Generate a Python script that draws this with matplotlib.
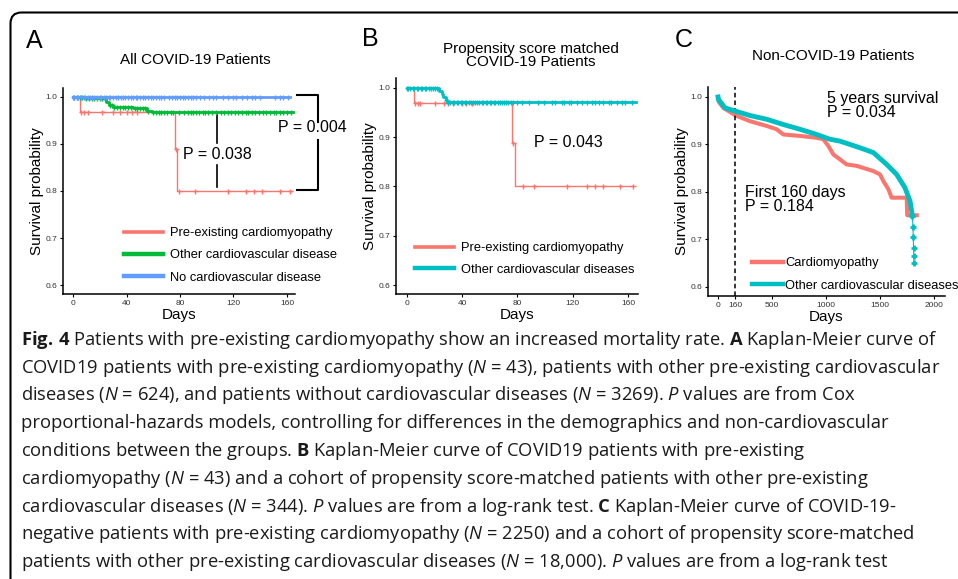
import numpy as np
import matplotlib
matplotlib.use("Agg")
import matplotlib.pyplot as plt
from matplotlib.patches import FancyBboxPatch
from matplotlib.lines import Line2D

plt.rcParams['font.family'] = ['Liberation Sans', 'DejaVu Sans']
plt.rcParams['mathtext.fontset'] = 'custom'
plt.rcParams['mathtext.rm'] = 'Open Sans'
plt.rcParams['mathtext.it'] = 'Open Sans:italic'
plt.rcParams['mathtext.bf'] = 'Open Sans:bold'

RED = '#F8766D'
GREEN = '#00BA38'
BLUE = '#619CFF'
TEAL = '#00BFC4'

# ---------------- data ----------------
# A: all covid-19 patients (step times / survival, censor times)
a_cm_t = [0, 5, 76, 78]
a_cm_s = [1.0, 0.969, 0.889, 0.800]
a_cm_cens = [6, 8, 11, 22, 30, 35, 40, 44, 48, 77, 79, 91, 116, 129, 135, 141, 155, 162]
a_cvd_t = [0, 8, 25, 27, 30, 45, 55, 59]
a_cvd_s = [1.0, 0.997, 0.990, 0.983, 0.979, 0.976, 0.971, 0.967]
a_cvd_cens = [1, 3, 5, 7, 10, 12, 14, 16, 18, 20, 22, 24, 28, 29, 31, 33, 35, 37, 39,
              41, 43, 46, 48, 50, 52, 54, 56, 60, 62, 64, 66, 68, 70, 73, 75, 79, 83,
              86, 88, 90, 92, 94, 97, 99, 101, 104, 107, 111, 113, 116, 118, 121, 123,
              126, 129, 131, 134, 136, 139, 142, 144, 147, 150, 152, 155, 157, 160, 163]
a_none_t = [0]
a_none_s = [1.0]
a_none_cens = [0, 1, 3, 4, 6, 8, 9, 11, 13, 14, 16, 18, 20, 21, 23, 25, 27, 28, 30, 32,
               34, 36, 37, 39, 41, 43, 45, 47, 48, 50, 52, 54, 56, 58, 60, 62, 64, 66,
               68, 72, 74, 76, 78, 80, 82, 84, 86, 88, 90, 92, 95, 98, 102, 105, 107,
               112, 116, 120, 122, 126, 130, 134, 136, 140, 151, 155, 157, 161]

# B: propensity score matched covid-19 patients
b_cm_t = [0, 5, 76, 78]
b_cm_s = [1.0, 0.969, 0.889, 0.800]
b_cm_cens = [6, 8, 9.5, 20, 27, 30, 33.5, 40, 43, 47, 77, 84, 92, 116, 130, 136, 142, 154, 164]
b_oth_t = [0, 23, 25, 26, 28, 29]
b_oth_s = [1.0, 0.994, 0.988, 0.982, 0.976, 0.971]
b_oth_cens = [0, 1, 2, 4, 5, 7, 8, 10, 11, 13, 14, 16, 17, 19, 20, 22,
              28, 30, 31, 33, 34, 36, 37, 39, 40, 42, 43, 45, 46, 48, 49, 51, 52, 54,
              55, 57, 58, 60, 61, 63, 64, 66, 67, 69, 70, 72, 73, 75, 77, 80,
              83, 88, 95, 99, 105, 107, 112, 114, 117, 119, 123, 127, 130, 134, 136,
              139, 142, 146, 148, 152, 156, 158, 163]

# C: non-covid-19 patients
c_cm_days = [0, 6, 49, 164, 296, 451, 543, 605, 759, 914, 975, 1021, 1068, 1191, 1284,
             1438, 1500, 1531, 1577, 1608, 1747, 1752, 1840]
c_cm_surv = [1.0, 0.990, 0.977, 0.961, 0.949, 0.939, 0.932, 0.921, 0.918, 0.914, 0.911,
             0.897, 0.879, 0.858, 0.855, 0.844, 0.837, 0.823, 0.806, 0.788, 0.788, 0.751,
             0.751]
c_oth_days = [0, 3, 65, 164, 296, 451, 605, 759, 914, 1037, 1130, 1315, 1438, 1562,
              1654, 1731, 1778, 1800]
c_oth_surv = [1.0, 0.995, 0.977, 0.970, 0.961, 0.953, 0.942, 0.932, 0.921, 0.911, 0.907,
              0.893, 0.883, 0.858, 0.837, 0.809, 0.781, 0.750]
c_oth_tail_days = [1800, 1805, 1808, 1811, 1813, 1815]
c_oth_tail_surv = [0.750, 0.727, 0.706, 0.682, 0.665, 0.650]

y_ticks = [0.6, 0.7, 0.8, 0.9, 1.0]
ab_x_ticks = [0, 40, 80, 120, 160]
c_x_ticks = [0, 160, 500, 1000, 1500, 2000]

caption = [
    r"$\mathbf{Fig.\,4}$ Patients with pre-existing cardiomyopathy show an increased mortality rate. $\mathbf{A}$ Kaplan-Meier curve of",
    r"COVID19 patients with pre-existing cardiomyopathy ($\mathit{N}$ = 43), patients with other pre-existing cardiovascular",
    r"diseases ($\mathit{N}$ = 624), and patients without cardiovascular diseases ($\mathit{N}$ = 3269). $\mathit{P}$ values are from Cox",
    r"proportional-hazards models, controlling for differences in the demographics and non-cardiovascular",
    r"conditions between the groups. $\mathbf{B}$ Kaplan-Meier curve of COVID19 patients with pre-existing",
    r"cardiomyopathy ($\mathit{N}$ = 43) and a cohort of propensity score-matched patients with other pre-existing",
    r"cardiovascular diseases ($\mathit{N}$ = 344). $\mathit{P}$ values are from a log-rank test. $\mathbf{C}$ Kaplan-Meier curve of COVID-19-",
    r"negative patients with pre-existing cardiomyopathy ($\mathit{N}$ = 2250) and a cohort of propensity score-matched",
    r"patients with other pre-existing cardiovascular diseases ($\mathit{N}$ = 18,000). $\mathit{P}$ values are from a log-rank test",
]

W, H = 958, 579
fig = plt.figure(figsize=(W / 100, H / 100), dpi=100)
fig.patch.set_facecolor('white')

# background axes in pixel units (for border, letters, titles, caption)
bg = fig.add_axes([0, 0, 1, 1], zorder=0)
bg.set_xlim(0, W)
bg.set_ylim(H, 0)
bg.axis('off')
bg.add_patch(FancyBboxPatch((10.5, 12.5), 1100, 700,
                            boxstyle='round,pad=0,rounding_size=11',
                            fc='none', ec='black', lw=1.5, clip_on=False))


def px_axes(x0, y0, x1, y1):
    ax = fig.add_axes([x0 / W, 1 - y1 / H, (x1 - x0) / W, (y1 - y0) / H], zorder=2)
    ax.set_facecolor('none')
    for s in ['top', 'right']:
        ax.spines[s].set_visible(False)
    for s in ['left', 'bottom']:
        ax.spines[s].set_linewidth(1.1)
    ax.tick_params(length=2.5, width=0.8, pad=1.5, labelsize=6, labelcolor='#333333')
    ax.set_yticks(y_ticks)
    ax.set_yticklabels(['%.1f' % v for v in y_ticks])
    ax.set_ylabel('Survival probability', fontsize=11, labelpad=1)
    ax.set_xlabel('Days', fontsize=11, labelpad=1)
    return ax


def km(ax, times, surv, end, cens, color, lw=1.0, ms=3.6, z=2):
    ax.step(list(times) + [end], list(surv) + [surv[-1]], where='post',
            color=color, lw=lw, zorder=z)
    idx = np.searchsorted(times, cens, side='right') - 1
    ax.plot(cens, np.array(surv)[idx], ls='none', marker='+', ms=ms, mew=1.0,
            color=color, zorder=z)


def key(color, lw=2.6):
    return Line2D([], [], color=color, lw=lw)


# ---------------- panel A ----------------
axA = px_axes(63, 88, 295, 294)
axA.set_xlim(-7.5, 166)
axA.set_ylim(0.581, 1.019)
axA.set_xticks(ab_x_ticks)
km(axA, a_cm_t, a_cm_s, 164, a_cm_cens, RED, lw=1.0)
km(axA, a_cvd_t, a_cvd_s, 164.5, a_cvd_cens, GREEN, lw=2.0, z=3)
km(axA, a_none_t, a_none_s, 162, a_none_cens, BLUE, lw=2.0, z=4)

# P value brackets
axA.plot([108, 108], [0.962, 0.903], color='black', lw=1.2, clip_on=False)
axA.plot([108, 108], [0.855, 0.809], color='black', lw=1.2, clip_on=False)
axA.text(82, 0.878, 'P = 0.038', fontsize=11.5, va='center', ha='left')
axA.plot([167.5, 183.5, 183.5], [1.004, 1.004, 0.946], color='black', lw=1.5, clip_on=False)
axA.plot([183.5, 183.5, 167.5], [0.909, 0.802, 0.802], color='black', lw=1.5, clip_on=False)
axA.text(178.7, 0.934, 'P = 0.004', fontsize=11.5, va='center', ha='center', zorder=5)

axA.legend([key(RED), key(GREEN, 3.2), key(BLUE, 3.2)],
           ['Pre-existing cardiomyopathy', 'Other cardiovascular disease',
            'No cardiovascular disease'],
           loc='center left', bbox_to_anchor=(0.262, 0.187), frameon=False,
           fontsize=9.3, handlelength=3.0, handletextpad=0.55, labelspacing=0.78,
           borderpad=0, borderaxespad=0)

# ---------------- panel B ----------------
axB = px_axes(396, 78, 638, 294)
axB.set_xlim(-8, 167.3)
axB.set_ylim(0.582, 1.020)
axB.set_xticks(ab_x_ticks)
km(axB, b_cm_t, b_cm_s, 164, b_cm_cens, RED, lw=1.0)
km(axB, b_oth_t, b_oth_s, 166, b_oth_cens, TEAL, lw=2.0, z=3)
axB.text(92, 0.889, 'P = 0.043', fontsize=11.5, va='center', ha='left')
axB.legend([key(RED), key(TEAL, 3.2)],
           ['Pre-existing cardiomyopathy', 'Other cardiovascular diseases'],
           loc='center left', bbox_to_anchor=(0.078, 0.162), frameon=False,
           fontsize=9.3, handlelength=3.0, handletextpad=0.55, labelspacing=0.72,
           borderpad=0, borderaxespad=0)

# ---------------- panel C ----------------
axC = px_axes(708, 87, 945, 296)
axC.set_xlim(-93, 2102)
axC.set_ylim(0.581, 1.021)
axC.set_xticks(c_x_ticks)
axC.plot(c_cm_days, c_cm_surv, color=RED, lw=2.9, zorder=2)
axC.plot(c_oth_days, c_oth_surv, color=TEAL, lw=3.5, zorder=3)
axC.plot(c_oth_tail_days, c_oth_tail_surv, color=TEAL, lw=0.8, marker='+', ms=4,
         mew=2, zorder=3)
axC.axvline(160, color='black', ls='--', lw=1.1, dashes=(3, 2))
axC.text(1006, 0.982, '5 years survival\nP = 0.034', fontsize=11.5, va='center',
         ha='left', linespacing=0.95)
axC.text(250, 0.784, 'First 160 days\nP = 0.184', fontsize=11.5, va='center',
         ha='left', linespacing=0.95)
axC.legend([key(RED, 3.2), key(TEAL, 3.2)],
           ['Cardiomyopathy', 'Other cardiovascular diseases'],
           loc='center left', bbox_to_anchor=(0.186, 0.103), frameon=False,
           fontsize=9.3, handlelength=2.4, handletextpad=0.15, labelspacing=0.78,
           borderpad=0, borderaxespad=0)

# ---------------- letters and titles ----------------
for letter, x, y in [('A', 26, 41), ('B', 362, 38.5), ('C', 675, 40)]:
    bg.text(x, y, letter, fontsize=18, ha='left', va='center')
bg.text(195, 60, 'All COVID-19 Patients', fontsize=11, ha='center', va='center')
bg.text(531, 55.5, 'Propensity score matched\nCOVID-19 Patients', fontsize=11,
        ha='center', va='center', linespacing=0.98)
bg.text(833, 56, 'Non-COVID-19 Patients', fontsize=11, ha='center', va='center')

# ---------------- caption ----------------
for i, line in enumerate(caption):
    bg.text(21, 345 + i * 27.75, line, fontsize=13.2, ha='left', va='baseline',
            family='Open Sans', color='#1a1a1a')

fig.savefig('out.png', dpi=100)
